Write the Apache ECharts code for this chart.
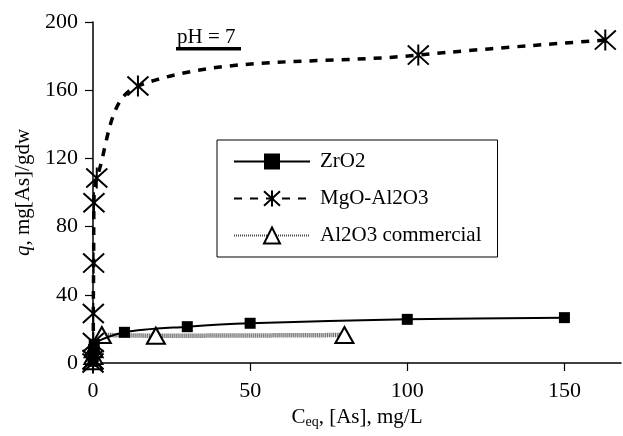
<!DOCTYPE html>
<html>
<head>
<meta charset="utf-8">
<script src="https://cdn.jsdelivr.net/npm/echarts@6/dist/echarts.min.js"></script>
<style>
  html, body { margin: 0; padding: 0; background: #fff; }
  #chart { width: 623px; height: 436px; }
</style>
</head>
<body>
<div id="chart"></div>
<script>
// [Ceq, q] pairs
var zro2 = [[0, 1], [0.05, 4], [0.2, 8], [0.4, 11], [10, 18], [30, 21.3], [50, 23.3], [100, 25.6], [150, 26.6]];
var mgoAl2o3 = [[0, 0], [0, 2], [0.1, 12], [0.1, 29], [0.2, 58.6], [0.3, 94], [1.2, 108.5], [14.3, 162.5], [103.5, 180.6], [163, 189.4]];
var al2o3 = [[0, 1], [0.1, 4], [0.2, 8], [2.8, 16.4], [20, 16], [80, 16.4]];
var seriesNames = ["ZrO2", "MgO-Al2O3", "Al2O3 commercial"];

var serif = "Liberation Serif";
var star = "path://M0,0L20,20M20,0L0,20M10,-1L10,21";

var chart = echarts.init(document.getElementById("chart"));

var option = {
  animation: false,
  textStyle: { fontFamily: serif, color: "#000" },
  grid: { left: 93, right: 2, top: 22, bottom: 73, containLabel: false, outerBoundsMode: "none" },
  legend: {
    data: seriesNames,
    orient: "vertical",
    left: 217,
    top: 140,
    itemWidth: 76,
    itemHeight: 20,
    itemGap: 16,
    padding: [11, 16, 11, 16],
    borderColor: "#000",
    borderWidth: 1,
    textStyle: { fontFamily: serif, fontSize: 21, color: "#000", padding: [0, 0, 0, 5] }
  },
  xAxis: {
    type: "value",
    min: 0,
    max: 168,
    interval: 50,
    name: "C{sub|eq}, [As], mg/L",
    nameLocation: "middle",
    nameGap: 38,
    nameTextStyle: {
      fontFamily: serif, fontSize: 21, color: "#000",
      rich: { sub: { fontFamily: serif, fontSize: 14, color: "#000", padding: [10, 0, 0, 0] } }
    },
    splitLine: { show: false },
    axisLine: { lineStyle: { color: "#000", width: 1.5 } },
    axisTick: { inside: false, length: 8, lineStyle: { color: "#000", width: 1.2 } },
    axisLabel: { fontFamily: serif, fontSize: 22, color: "#000", margin: 17,
      showMaxLabel: false }
  },
  yAxis: {
    type: "value",
    min: 0,
    max: 200,
    interval: 40,
    name: "{i|q}, mg[As]/gdw",
    nameLocation: "middle",
    nameGap: 58,
    nameTextStyle: {
      fontFamily: serif, fontSize: 21, color: "#000",
      rich: { i: { fontFamily: serif, fontSize: 21, fontStyle: "italic", color: "#000" } }
    },
    splitLine: { show: false },
    axisLine: { show: true, lineStyle: { color: "#000", width: 1.5 } },
    axisTick: { show: true, length: 8, lineStyle: { color: "#000", width: 1.2 } },
    axisLabel: { fontFamily: serif, fontSize: 22, color: "#000", margin: 15 }
  },
  graphic: [
    {
      type: "text", left: 177, top: 27,
      style: { text: "pH = 7", font: "21px 'Liberation Serif'", fill: "#000" }
    },
    {
      type: "rect", shape: { x: 176, y: 47, width: 65, height: 3.5 },
      style: { fill: "#000" }
    }
  ],
  series: [
    {
      name: seriesNames[2],
      type: "line",
      data: al2o3,
      smooth: 0.3,
      symbol: "triangle",
      symbolSize: [18, 16],
      lineStyle: { color: "#444", width: 4.5, type: [1, 1] },
      itemStyle: { color: "#fff", borderColor: "#000", borderWidth: 2 },
      z: 2
    },
    {
      name: seriesNames[1],
      type: "line",
      data: mgoAl2o3,
      smooth: 0.35,
      symbol: star,
      symbolSize: 21,
      lineStyle: { color: "#000", width: 3.5, type: [8, 8] },
      itemStyle: { color: "#000", borderColor: "#000", borderWidth: 2 },
      z: 3
    },
    {
      name: seriesNames[0],
      type: "line",
      data: zro2,
      smooth: 0.3,
      symbol: "rect",
      symbolSize: 11,
      lineStyle: { color: "#000", width: 2 },
      itemStyle: { color: "#000" },
      z: 4
    }
  ]
};

chart.setOption(option);
</script>
</body>
</html>
